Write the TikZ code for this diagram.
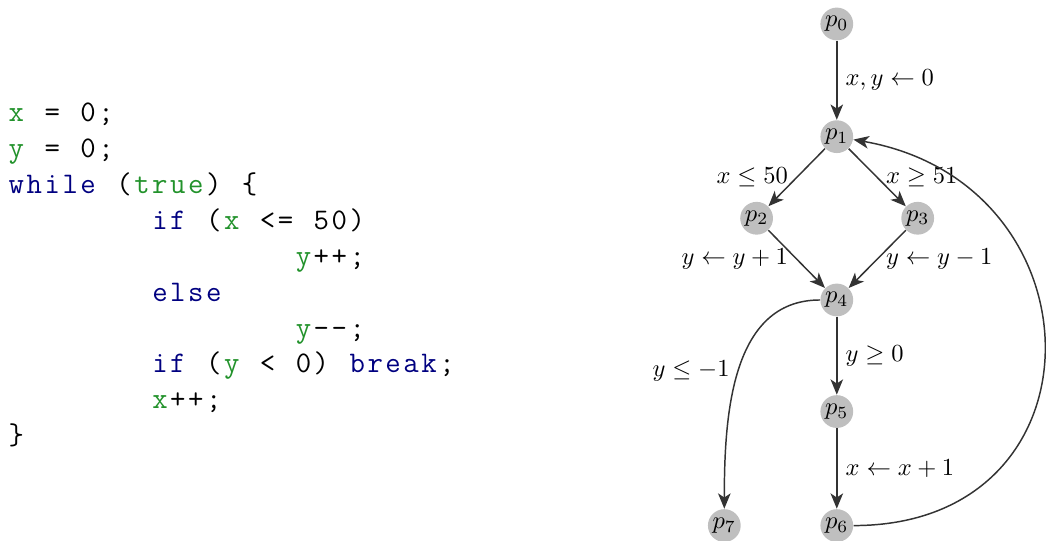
\documentclass[tikz,border=0pt]{standalone}
\usepackage{amssymb}
\usepackage{tikz}
\usetikzlibrary{arrows.meta,positioning}
\definecolor{CfgVar}{HTML}{22922B}
\definecolor{CfgKey}{HTML}{000080}
\definecolor{CfgNode}{HTML}{BFBFBF}
\definecolor{CfgEdge}{HTML}{333333}
% fixed-column code: every character sits in a 0.6em cell
\makeatletter
\newcommand{\ct}[1]{\@tfor\cfg@ch:=#1\do{\makebox[0.6em]{\cfg@ch}}}
\makeatother
\newcommand{\cv}[1]{{\color{CfgVar}\ct{#1}}}
\newcommand{\ck}[1]{{\color{CfgKey}\ct{#1}}}
\newcommand{\s}{\hspace*{0.6em}}
\newcommand{\ind}{\hspace*{4.8em}}

\begin{document}
\begin{tikzpicture}[node distance=1.6cm, on grid,
  pt/.style={circle, fill=CfgNode, inner sep=0pt, minimum size=4.7mm},
  ed/.style={-{Stealth[length=2.2mm, width=1.8mm, inset=0.6mm]}, draw=CfgEdge, semithick}]
  \useasboundingbox (0,0) rectangle (15,7.758);

  % source code
  \node[anchor=base west, inner sep=0pt, align=left,
    font=\ttfamily\fontsize{12.2}{14.65}\selectfont] (code) at (0.1,1.38)
    {\cv{x}\s\ct{=}\s\ct{0;}\\
     \cv{y}\s\ct{=}\s\ct{0;}\\
     \ck{while}\s\ct{(}\cv{true}\ct{)}\s\ct{\{}\\
     \ind\ck{if}\s\ct{(}\cv{x}\s\ct{<=}\s\ct{50)}\\
     \ind\ind\cv{y}\ct{++;}\\
     \ind\ck{else}\\
     \ind\ind\cv{y}\ct{--;}\\
     \ind\ck{if}\s\ct{(}\cv{y}\s\ct{<}\s\ct{0)}\s\ck{break}\ct{;}\\
     \ind\cv{x}\ct{++;}\\
     \ct{\}}};

  % control flow graph
  \node[pt] (p0) at (12.0,7.414) {$p_0$};
  \node[pt, below=1.616cm of p0] (p1) {$p_1$};
  \node[pt, below left=1.17cm and 1.15cm of p1] (p2) {$p_2$};
  \node[pt, below right=1.17cm and 1.16cm of p1] (p3) {$p_3$};
  \node[pt, below=2.342cm of p1] (p4) {$p_4$};
  \node[pt, below=of p4] (p5) {$p_5$};
  \node[pt, below=1.635cm of p5] (p6) {$p_6$};
  \node[pt, left=1.613cm of p6] (p7) {$p_7$};

  \draw[ed] (p0) -- node[right] {$x, y \leftarrow 0$} (p1);
  \draw[ed] (p1) -- node[left] {$x \leq 50$} (p2);
  \draw[ed] (p1) -- node[right] {$x \geq 51$} (p3);
  \draw[ed] (p2) -- node[left] {$y \leftarrow y + 1$} (p4);
  \draw[ed] (p3) -- node[right] {$y \leftarrow y - 1$} (p4);
  \draw[ed] (p4) -- node[right] {$y \geq 0$} (p5);
  \draw[ed] (p5) -- node[right] {$x \leftarrow x + 1$} (p6);
  \draw[ed] (p4) to[out=180, in=90] node[left] {$y \leq -1$} (p7);
  \draw[ed] (p6) to[out=0, in=-10, looseness=1.7] (p1);
\end{tikzpicture}
\end{document}
